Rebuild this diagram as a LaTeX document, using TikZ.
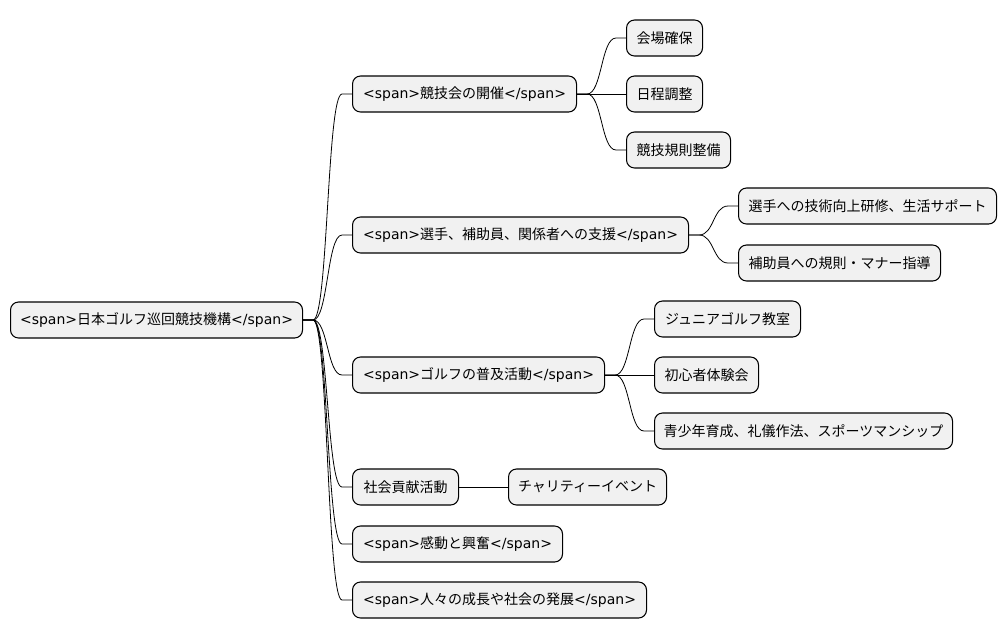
\documentclass[tikz,border=0pt]{standalone}
\usepackage{fontspec}
\setmainfont{Noto Sans CJK JP}
\newfontfamily\latinfont{DejaVu Sans}
\newcommand{\spantxt}[1]{{\latinfont <span>}#1{\latinfont </span>}}
\definecolor{boxgray}{HTML}{F1F1F1}
\tikzset{
  box/.style={draw, fill=boxgray, rounded corners=6pt, line width=0.8pt,
    minimum height=27pt, inner sep=0pt, anchor=west,
    font=\fontsize{10.5}{12}\selectfont},
  link/.style={line width=0.6pt}
}
\begin{document}
\begin{tikzpicture}[x=0.75pt, y=-0.75pt, line cap=round, line join=round]
  \useasboundingbox (0,0) rectangle (1006,640);

  % Wurzel
  \node[box, minimum width=219pt] (root) at (10,320) {\spantxt{日本ゴルフ巡回競技機構}};

  % erste Ebene
  \node[box, minimum width=168pt] (kaisai) at (352,94) {\spantxt{競技会の開催}};
  \node[box, minimum width=252pt] (shien) at (352,235) {\spantxt{選手、補助員、関係者への支援}};
  \node[box, minimum width=189pt] (fukyu) at (352,375) {\spantxt{ゴルフの普及活動}};
  \node[box, minimum width=79.5pt] (koken) at (352,487) {社会貢献活動};
  \node[box, minimum width=157.5pt] (kando) at (352,544) {\spantxt{感動と興奮}};
  \node[box, minimum width=220.5pt] (seicho) at (352,600) {\spantxt{人々の成長や社会の発展}};

  % zweite Ebene
  \node[box, minimum width=57pt] (kaijo) at (626,38) {会場確保};
  \node[box, minimum width=57pt] (nittei) at (626,94) {日程調整};
  \node[box, minimum width=78pt] (kisoku) at (626,150) {競技規則整備};
  \node[box, minimum width=193.5pt] (kenshu) at (738,206) {選手への技術向上研修、生活サポート};
  \node[box, minimum width=151.5pt] (shido) at (738,263) {補助員への規則・マナー指導};
  \node[box, minimum width=109.5pt] (junior) at (654,319) {ジュニアゴルフ教室};
  \node[box, minimum width=78pt] (taiken) at (654,375) {初心者体験会};
  \node[box, minimum width=223.5pt] (ikusei) at (654,431) {青少年育成、礼儀作法、スポーツマンシップ};
  \node[box, minimum width=118.5pt] (charity) at (508,487) {チャリティーイベント};

  % Verbindungen von der Wurzel
  \draw[link] (root.east) -- ++(10,0) .. controls +(15,0) and ([xshift=-18.75pt]kaisai.west) .. ([xshift=-7.5pt]kaisai.west) -- (kaisai.west);
  \draw[link] (root.east) -- ++(10,0) .. controls +(15,0) and ([xshift=-18.75pt]shien.west) .. ([xshift=-7.5pt]shien.west) -- (shien.west);
  \draw[link] (root.east) -- ++(10,0) .. controls +(15,0) and ([xshift=-18.75pt]fukyu.west) .. ([xshift=-7.5pt]fukyu.west) -- (fukyu.west);
  \draw[link] (root.east) -- ++(10,0) .. controls +(15,0) and ([xshift=-18.75pt]koken.west) .. ([xshift=-7.5pt]koken.west) -- (koken.west);
  \draw[link] (root.east) -- ++(10,0) .. controls +(15,0) and ([xshift=-18.75pt]kando.west) .. ([xshift=-7.5pt]kando.west) -- (kando.west);
  \draw[link] (root.east) -- ++(10,0) .. controls +(15,0) and ([xshift=-18.75pt]seicho.west) .. ([xshift=-7.5pt]seicho.west) -- (seicho.west);

  % Verbindungen der zweiten Ebene
  \draw[link] (kaisai.east) -- ++(10,0) .. controls +(15,0) and ([xshift=-18.75pt]kaijo.west) .. ([xshift=-7.5pt]kaijo.west) -- (kaijo.west);
  \draw[link] (kaisai.east) -- (nittei.west);
  \draw[link] (kaisai.east) -- ++(10,0) .. controls +(15,0) and ([xshift=-18.75pt]kisoku.west) .. ([xshift=-7.5pt]kisoku.west) -- (kisoku.west);
  \draw[link] (shien.east) -- ++(10,0) .. controls +(15,0) and ([xshift=-18.75pt]kenshu.west) .. ([xshift=-7.5pt]kenshu.west) -- (kenshu.west);
  \draw[link] (shien.east) -- ++(10,0) .. controls +(15,0) and ([xshift=-18.75pt]shido.west) .. ([xshift=-7.5pt]shido.west) -- (shido.west);
  \draw[link] (fukyu.east) -- ++(10,0) .. controls +(15,0) and ([xshift=-18.75pt]junior.west) .. ([xshift=-7.5pt]junior.west) -- (junior.west);
  \draw[link] (fukyu.east) -- (taiken.west);
  \draw[link] (fukyu.east) -- ++(10,0) .. controls +(15,0) and ([xshift=-18.75pt]ikusei.west) .. ([xshift=-7.5pt]ikusei.west) -- (ikusei.west);
  \draw[link] (koken.east) -- (charity.west);

\end{tikzpicture}
\end{document}
